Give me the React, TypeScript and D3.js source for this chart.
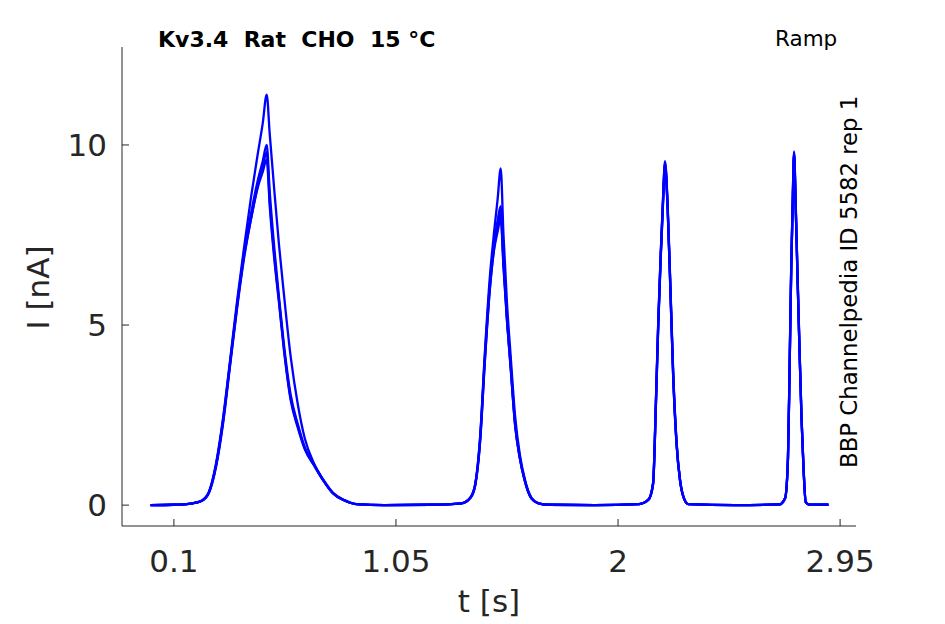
import * as d3 from "d3";

// sample times [s], shared by every sweep
const tGrid = [
    0, 0.1, 0.18, 0.22, 0.25, 0.28, 0.31, 0.34, 0.37, 0.4, 0.43, 0.46, 0.48, 0.497, 0.51, 0.53, 0.55, 0.57, 0.6, 0.63, 0.66, 0.7, 0.74, 0.78, 0.83, 0.88,
    1.0, 1.2, 1.33, 1.37, 1.39, 1.41, 1.43, 1.45, 1.47, 1.485, 1.498, 1.51, 1.525, 1.54, 1.56, 1.58, 1.6, 1.63, 1.66, 1.7,
    1.9, 2.09, 2.13, 2.15, 2.162, 2.172, 2.182, 2.192, 2.201, 2.212, 2.224, 2.236, 2.25, 2.265, 2.28, 2.3,
    2.5, 2.69, 2.715, 2.727, 2.734, 2.741, 2.747, 2.753, 2.76, 2.768, 2.776, 2.785, 2.794, 2.803, 2.82, 2.9,
];

// current [nA] per sweep
const sweep1 = [
    0, 0.01, 0.05, 0.13, 0.37, 1.15, 2.4, 4.0, 5.65, 7.15, 8.55, 9.8, 10.6, 11.4, 10.3, 8.7, 7.2, 5.9, 4.1, 2.8, 1.85, 1.15, 0.7, 0.35, 0.14, 0.03,
    0, 0.01, 0.05, 0.23, 0.62, 1.9, 4.2, 6.2, 7.6, 8.5, 9.35, 7.5, 5.6, 4.2, 2.45, 1.4, 0.75, 0.2, 0.05, 0.01,
    0, 0.03, 0.15, 0.62, 2.9, 5.1, 6.9, 8.45, 9.55, 8.4, 6.1, 3.7, 1.8, 0.72, 0.23, 0.03,
    0, 0.02, 0.2, 1.35, 3.9, 6.7, 8.4, 9.82, 8.4, 6.4, 4.5, 2.45, 0.98, 0.09, 0.01, 0.01,
];
const sweep2 = [
    0, 0.01, 0.05, 0.12, 0.36, 1.1, 2.35, 3.95, 5.55, 7.0, 8.1, 9.05, 9.55, 10.0, 8.7, 7.1, 5.75, 4.5, 3.05, 2.25, 1.6, 1.12, 0.68, 0.33, 0.13, 0.03,
    0, 0.01, 0.05, 0.22, 0.6, 1.85, 4.1, 6.0, 7.3, 7.9, 8.3, 6.8, 5.2, 3.95, 2.25, 1.32, 0.72, 0.18, 0.05, 0.01,
    0, 0.03, 0.15, 0.6, 2.85, 5.05, 6.85, 8.4, 9.5, 8.3, 6.0, 3.6, 1.75, 0.7, 0.22, 0.03,
    0, 0.02, 0.2, 1.3, 3.85, 6.65, 8.35, 9.78, 8.35, 6.3, 4.4, 2.4, 0.95, 0.08, 0.01, 0.01,
];
const sweep3 = [
    0, 0.01, 0.05, 0.12, 0.34, 1.05, 2.25, 3.85, 5.45, 6.85, 7.95, 8.9, 9.4, 9.8, 8.45, 6.9, 5.65, 4.4, 2.95, 2.2, 1.58, 1.1, 0.67, 0.33, 0.13, 0.03,
    0, 0.01, 0.05, 0.21, 0.58, 1.75, 3.95, 5.85, 7.15, 7.75, 8.1, 6.7, 5.15, 3.9, 2.2, 1.3, 0.7, 0.18, 0.05, 0.01,
    0, 0.03, 0.15, 0.58, 2.75, 4.95, 6.75, 8.3, 9.4, 8.25, 5.95, 3.55, 1.72, 0.69, 0.22, 0.03,
    0, 0.02, 0.2, 1.28, 3.75, 6.55, 8.25, 9.7, 8.25, 6.25, 4.35, 2.38, 0.94, 0.08, 0.01, 0.01,
];
const sweep4 = [
    0, 0.01, 0.05, 0.12, 0.35, 1.1, 2.3, 3.9, 5.5, 6.9, 7.95, 8.85, 9.25, 9.6, 8.3, 6.8, 5.6, 4.35, 2.9, 2.15, 1.55, 1.1, 0.68, 0.33, 0.13, 0.03,
    0, 0.01, 0.05, 0.22, 0.6, 1.8, 4.0, 5.9, 7.1, 7.6, 7.95, 6.6, 5.1, 3.85, 2.2, 1.3, 0.7, 0.18, 0.05, 0.01,
    0, 0.03, 0.15, 0.6, 2.8, 5.0, 6.8, 8.35, 9.45, 8.3, 6.0, 3.6, 1.75, 0.7, 0.22, 0.03,
    0, 0.02, 0.2, 1.3, 3.8, 6.6, 8.3, 9.75, 8.3, 6.3, 4.4, 2.4, 0.95, 0.08, 0.01, 0.01,
];
const sweeps = [sweep1, sweep2, sweep3, sweep4];

const xTicks = [0.1, 1.05, 2, 2.95];
const yTicks = [0, 5, 10];

const title = "Kv3.4  Rat  CHO  15 °C";
const protocol = "Ramp";
const sideNote = "BBP Channelpedia ID 5582 rep 1";

const App = () => {
    const width = 945;
    const height = 624;
    const left = 122;
    const right = 856;
    const top = 47;
    const bottom = 526;
    const axisColor = "#262626";
    const font = "DejaVu Sans, sans-serif";

    const xScale = d3.scaleLinear().domain([-0.122, 3.018]).range([left, right]);
    const yScale = d3.scaleLinear().domain([-0.58, 12.72]).range([bottom, top]);

    const lineGenerator = d3
        .line<number>()
        .x((_, i) => xScale(tGrid[i]))
        .y((d) => yScale(d))
        .curve(d3.curveMonotoneX);

    return (
        <svg
            width={width}
            height={height}
            style={{ position: "absolute", left: 0, top: 0, background: "#fff" }}
        >
            {sweeps.map((s, i) => (
                <path
                    key={i}
                    d={lineGenerator(s) ?? ""}
                    stroke="#0000ff"
                    strokeWidth={2.3}
                    fill="none"
                    strokeLinejoin="round"
                />
            ))}

            {/* axes */}
            <line x1={left} x2={left} y1={top} y2={bottom} stroke={axisColor} strokeWidth={1} />
            <line x1={left} x2={right} y1={bottom} y2={bottom} stroke={axisColor} strokeWidth={1} />
            {yTicks.map((v) => (
                <g key={v}>
                    <line
                        x1={left}
                        x2={left + 7}
                        y1={yScale(v)}
                        y2={yScale(v)}
                        stroke={axisColor}
                    />
                    <text
                        x={107}
                        y={yScale(v)}
                        dy="0.36em"
                        textAnchor="end"
                        fontFamily={font}
                        fontSize={31}
                        fill={axisColor}
                    >
                        {v}
                    </text>
                </g>
            ))}
            {xTicks.map((v) => (
                <g key={v}>
                    <line
                        x1={xScale(v)}
                        x2={xScale(v)}
                        y1={bottom}
                        y2={bottom - 7}
                        stroke={axisColor}
                    />
                    <text
                        x={xScale(v)}
                        y={572}
                        textAnchor="middle"
                        fontFamily={font}
                        fontSize={31}
                        fill={axisColor}
                    >
                        {v}
                    </text>
                </g>
            ))}

            {/* axis labels */}
            <text
                x={(left + right) / 2}
                y={612}
                textAnchor="middle"
                fontFamily={font}
                fontSize={31}
                fill={axisColor}
            >
                t [s]
            </text>
            <text
                transform={`translate(49, ${(top + bottom) / 2 + 1}) rotate(-90)`}
                textAnchor="middle"
                fontFamily={font}
                fontSize={31}
                fill={axisColor}
            >
                I [nA]
            </text>

            {/* annotations */}
            <text
                x={158}
                y={47}
                fontFamily={font}
                fontSize={22}
                fontWeight="bold"
                fill="#000"
                style={{ whiteSpace: "pre" }}
            >
                {title}
            </text>
            <text x={775} y={46} fontFamily={font} fontSize={21.5} fill="#000">
                {protocol}
            </text>
            <text
                transform="translate(857, 468) rotate(-90)"
                fontFamily={font}
                fontSize={22.8}
                fill="#000"
            >
                {sideNote}
            </text>
        </svg>
    );
};

export default App;
